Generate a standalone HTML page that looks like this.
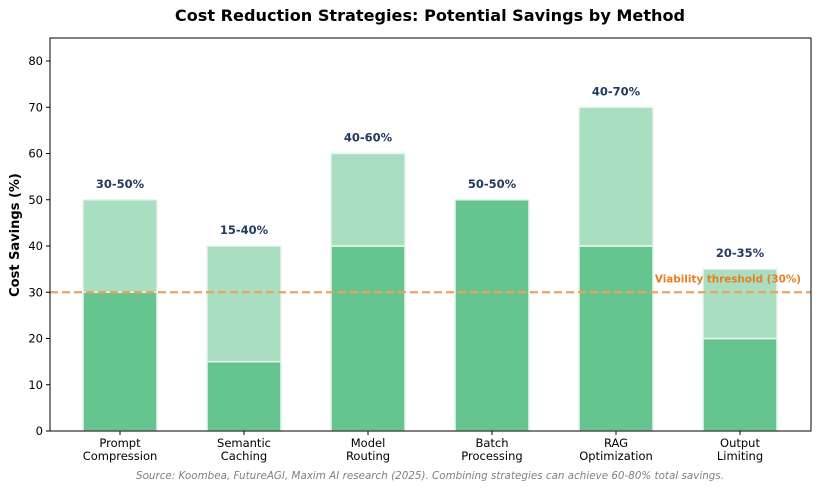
<!DOCTYPE html>
<html><head><meta charset="utf-8"><style>
body{margin:0;background:#fff;}
svg{display:block;font-family:"DejaVu Sans","Liberation Sans",sans-serif;}
</style></head><body>
<svg id="chart" width="820" height="489" viewBox="0 0 820 489">
<text x="430" y="21" text-anchor="middle" font-size="16.1" font-weight="bold" fill="#000">Cost Reduction Strategies: Potential Savings by Method</text>
<g id="plot"></g>
<rect x="50" y="38" width="761" height="393" fill="none" stroke="#000" stroke-width="1"/>
<text transform="translate(19,235) rotate(-90)" text-anchor="middle" font-size="13" font-weight="bold">Cost Savings (%)</text>
<text x="430" y="479" text-anchor="middle" font-size="10.35" font-style="italic" fill="#808080">Source: Koombea, FutureAGI, Maxim AI research (2025). Combining strategies can achieve 60-80% total savings.</text>
</svg>
<script>
const categories=[["Prompt","Compression"],["Semantic","Caching"],["Model","Routing"],["Batch","Processing"],["RAG","Optimization"],["Output","Limiting"]];
const minSavings=[30,15,40,50,40,20];
const maxSavings=[50,40,60,50,70,35];
const rangeLabels=["30-50%","15-40%","40-60%","50-50%","40-70%","20-35%"];
const yTicks=[0,10,20,30,40,50,60,70,80];
const threshold=30;
const NS="http://www.w3.org/2000/svg";
const g=document.getElementById('plot');
const y=v=>431-v*370/80;
const x=i=>120+124*i;
const bw=74;
function mk(t,a,p){const e=document.createElementNS(NS,t);for(const k in a)e.setAttribute(k,a[k]);(p||g).appendChild(e);return e;}
yTicks.forEach(v=>{
 const l=mk('line',{x1:46,x2:50,y1:y(v),y2:y(v),stroke:'#000'});
 
 
 const t=mk('text',{x:43,y:y(v)+4,'text-anchor':'end','font-size':11.5});
 t.textContent=v;
 
 
});
categories.forEach((c,i)=>{
 const lo=mk('rect',{x:x(i)-bw/2,y:y(minSavings[i]),width:bw,height:y(0)-y(minSavings[i]),fill:'#66c48f',stroke:'#e8f5ec','stroke-width':1.5});
 
 
 if(maxSavings[i]>minSavings[i]){
  const hi=mk('rect',{x:x(i)-bw/2,y:y(maxSavings[i]),width:bw,height:y(minSavings[i])-y(maxSavings[i]),fill:'#a9dec0',stroke:'#e8f5ec','stroke-width':1.5});
  
  
 }
 const lb=mk('text',{x:x(i),y:y(maxSavings[i])-12,'text-anchor':'middle','font-size':11.5,'font-weight':'bold',fill:'#1f3a5f'});
 lb.textContent=rangeLabels[i];
 
 
 const tk=mk('line',{x1:x(i),x2:x(i),y1:431,y2:435,stroke:'#000'});
 
 
 c.forEach((s,j)=>{
  const t=mk('text',{x:x(i),y:447+j*13,'text-anchor':'middle','font-size':11.5});
  t.textContent=s;
  
  
 });
});
const th=mk('line',{x1:50,x2:811,y1:y(threshold),y2:y(threshold),stroke:'#f0a060','stroke-width':2.2,'stroke-dasharray':'8,4'});


const tl=mk('text',{x:801,y:y(threshold)-10,'text-anchor':'end','font-size':10.4,'font-weight':'bold',fill:'#e67e22'});
tl.textContent='Viability threshold ('+threshold+'%)';


</script>
</body></html>
